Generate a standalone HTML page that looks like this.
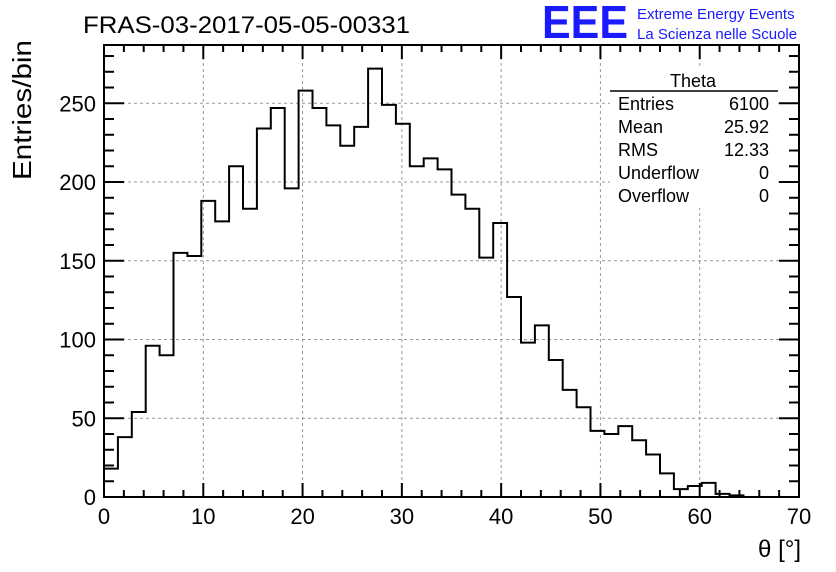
<!DOCTYPE html>
<html><head><meta charset="utf-8"><style>
body{margin:0;background:#fff;}
svg{display:block;font-family:"Liberation Sans",Arial,sans-serif;}
</style></head><body>
<svg id="c" width="836" height="572" viewBox="0 0 836 572">
<rect width="836" height="572" fill="#fff"/>
<text x="83" y="33" font-size="24" textLength="327" lengthAdjust="spacingAndGlyphs">FRAS-03-2017-05-05-00331</text>
<text x="542" y="38" font-size="46" fill="#1a1aff" font-weight="bold" textLength="86" lengthAdjust="spacingAndGlyphs">EEE</text>
<text x="637" y="19" font-size="15" fill="#1a1aff">Extreme Energy Events</text>
<text x="637" y="39" font-size="15" fill="#1a1aff">La Scienza nelle Scuole</text>
<g id="grid"></g>
<g id="axes"></g>
<path id="hist" fill="none" stroke="#000" stroke-width="2"/>
<text x="31" y="40" font-size="26" transform="rotate(-90 31 40)" text-anchor="end" textLength="140" lengthAdjust="spacingAndGlyphs">Entries/bin</text>
<text x="801" y="557" font-size="24" text-anchor="end">θ [°]</text>
<g font-size="18">
<rect x="610" y="68" width="168" height="140" fill="#fff"/>
<text x="693" y="87" text-anchor="middle">Theta</text>
<line x1="610" y1="91" x2="778" y2="91" stroke="#000" stroke-width="1.5"/>
<text x="618" y="110">Entries</text><text x="769" y="110" text-anchor="end">6100</text>
<text x="618" y="133">Mean</text><text x="769" y="133" text-anchor="end">25.92</text>
<text x="618" y="156">RMS</text><text x="769" y="156" text-anchor="end">12.33</text>
<text x="618" y="179">Underflow</text><text x="769" y="179" text-anchor="end">0</text>
<text x="618" y="202">Overflow</text><text x="769" y="202" text-anchor="end">0</text>
</g>
</svg>
<script>
const binWidth = 1.4;
const counts = [18,38,54,96,90,155,153,188,175,210,183,234,247,196,258,247,236,223,235,272,249,237,210,215,208,192,183,152,174,127,98,109,87,68,57,42,40,45,36,27,15,5,7,9,2,1,0,0,0,0];
const xTicks = [0,10,20,30,40,50,60,70];
const yTicks = [0,50,100,150,200,250];
const X0=104,X1=799,Y0=497,Y1=45;
const xs=v=>X0+(v/70)*(X1-X0);
const ys=v=>Y0-(v/287)*(Y0-Y1);
const NS="http://www.w3.org/2000/svg";
const grid=document.getElementById('grid'),axes=document.getElementById('axes');
function mk(tag,at,parent){const e=document.createElementNS(NS,tag);for(const k in at)e.setAttribute(k,at[k]);parent.appendChild(e);return e;}
xTicks.forEach(t=>{
 if(t>0&&t<70){const g=mk('line',{x1:xs(t),x2:xs(t),y1:Y1,y2:Y0,stroke:'#999','stroke-dasharray':'3,3'},grid);
 
 }
 const l=mk('text',{x:xs(t),y:Y0+27,'font-size':22,'text-anchor':'middle'},axes);l.textContent=t;
 
 
});
for(let v=0;v<=70;v+=2){const big=v%10===0;mk('line',{x1:xs(v),x2:xs(v),y1:Y0,y2:Y0-(big?14:7),stroke:'#000','stroke-width':2},axes);mk('line',{x1:xs(v),x2:xs(v),y1:Y1,y2:Y1+(big?14:7),stroke:'#000','stroke-width':2},axes);}
yTicks.forEach(t=>{
 if(t>0){const g=mk('line',{x1:X0,x2:X1,y1:ys(t),y2:ys(t),stroke:'#999','stroke-dasharray':'3,3'},grid);
 
 }
 const l=mk('text',{x:X0-8,y:ys(t)+8,'font-size':22,'text-anchor':'end'},axes);l.textContent=t;
 
 
});
for(let v=0;v<=280;v+=10){const big=v%50===0;mk('line',{x1:X0,x2:X0+(big?20:10),y1:ys(v),y2:ys(v),stroke:'#000','stroke-width':2},axes);mk('line',{x1:X1,x2:X1-(big?20:10),y1:ys(v),y2:ys(v),stroke:'#000','stroke-width':2},axes);}
mk('rect',{x:X0,y:Y1,width:X1-X0,height:Y0-Y1,fill:'none',stroke:'#000','stroke-width':2},axes);
let d='M'+xs(0)+' '+ys(0);
counts.forEach((c,i)=>{d+=' L'+xs(i*binWidth)+' '+ys(c)+' L'+xs((i+1)*binWidth)+' '+ys(c);});
document.getElementById('hist').setAttribute('d',d);
</script>
</body></html>
